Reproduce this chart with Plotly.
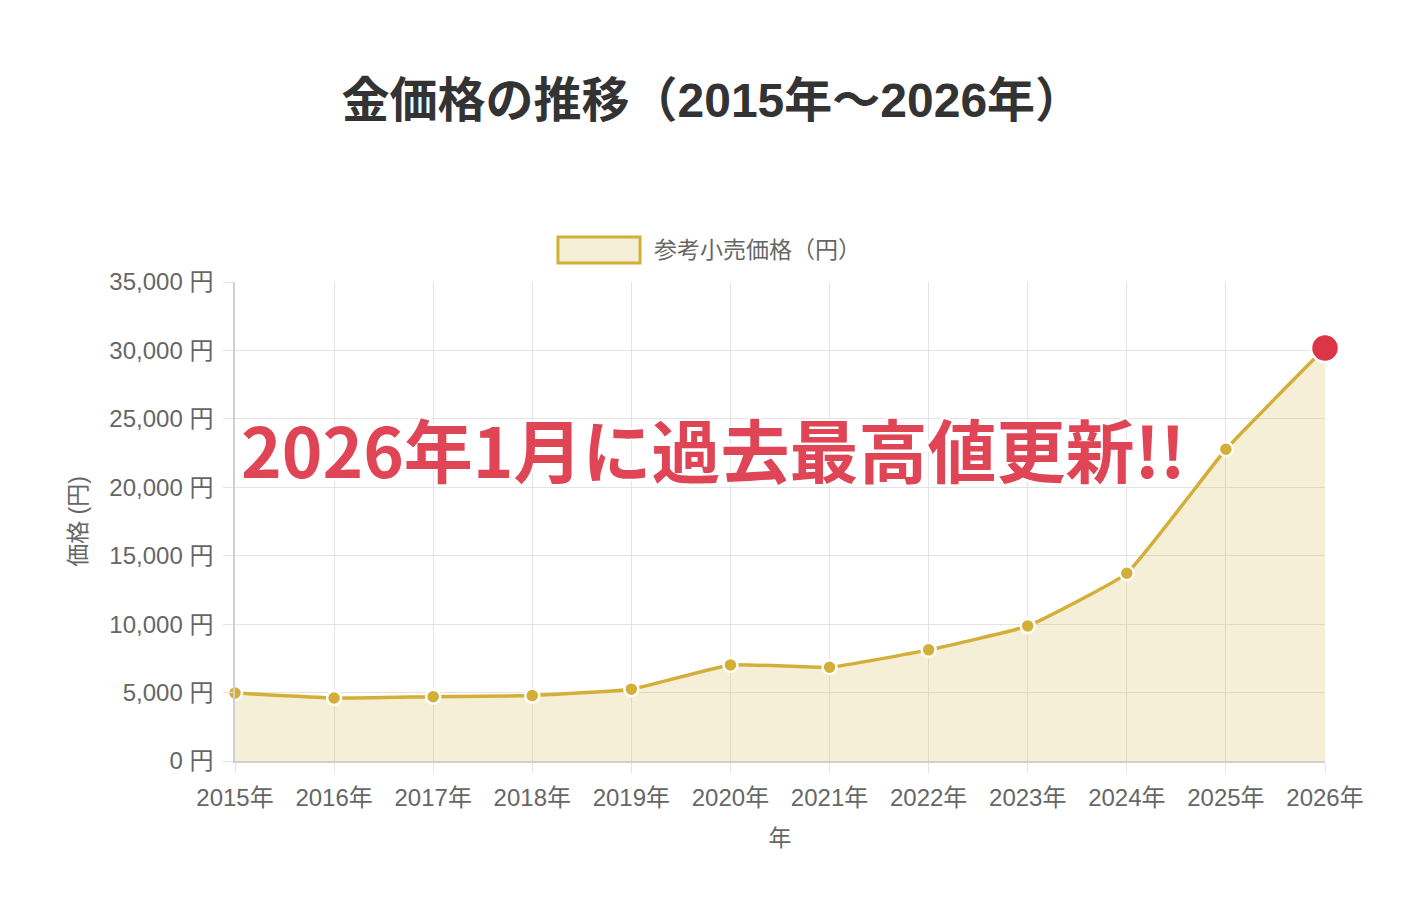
import plotly.graph_objects as go

# data
years = ["2015年", "2016年", "2017年", "2018年", "2019年", "2020年",
         "2021年", "2022年", "2023年", "2024年", "2025年", "2026年"]
prices = [4970, 4600, 4700, 4780, 5250, 7020, 6850, 8120, 9870, 13720, 22780, 30170]

y_ticks = [0, 5000, 10000, 15000, 20000, 25000, 30000, 35000]
y_tick_labels = [f"{v:,} 円" for v in y_ticks]

GOLD = "#d4af37"
RED = "#dc3545"
GRID = "#e4e4e4"
TEXT = "#666666"
BASE_FONT = "Liberation Sans, Noto Sans CJK JP, sans-serif"

marker_colors = [GOLD] * (len(prices) - 1) + [RED]
marker_sizes = [14] * (len(prices) - 1) + [28]

fig = go.Figure()
fig.add_trace(go.Scatter(
    x=years, y=prices,
    mode="lines+markers",
    name="参考小売価格（円）",
    line=dict(color=GOLD, width=3.5, shape="spline", smoothing=0.35),
    fill="tozeroy",
    fillcolor="rgba(212,175,55,0.2)",
    marker=dict(color=marker_colors, size=marker_sizes, opacity=1,
                line=dict(color="white", width=2.5)),
    cliponaxis=False,
    showlegend=False,
))

# page body adds 8px offset, so margins are shifted by that
fig.update_layout(
    width=1420, height=900,
    paper_bgcolor="white",
    plot_bgcolor="white",
    font=dict(family=BASE_FONT, size=24, color=TEXT),
    margin=dict(l=227, r=103, t=274, b=147),
    title=dict(
        text="<b>金価格の推移（2015年～2026年）</b>",
        x=0.496, xanchor="center", xref="container",
        y=0.898, yanchor="middle", yref="container",
        font=dict(family=BASE_FONT, size=48, color="#333333"),
    ),
    xaxis=dict(
        type="category",
        range=[0, len(years) - 1],
        showgrid=True, gridcolor=GRID, gridwidth=1,
        showline=True, linecolor="#d0d0d0", linewidth=1.5,
        ticks="outside", ticklen=10, tickcolor=GRID,
        ticklabelstandoff=4,
        tickfont=dict(size=24, color=TEXT),
        title=dict(text="年", font=dict(size=23, color=TEXT), standoff=20),
        zeroline=False,
    ),
    yaxis=dict(
        range=[0, 35000],
        tickvals=y_ticks,
        ticktext=y_tick_labels,
        showgrid=True, gridcolor=GRID, gridwidth=1,
        showline=True, linecolor="#d0d0d0", linewidth=1.5,
        ticks="outside", ticklen=10, tickcolor=GRID,
        ticklabelstandoff=5,
        tickfont=dict(size=24, color=TEXT),
        title=dict(text="価格 (円)", font=dict(size=23, color=TEXT), standoff=16),
        zeroline=False,
    ),
)

# custom legend box like the original chart
fig.add_shape(type="rect", xref="paper", yref="paper",
              x0=0.2963, x1=0.3716, y0=1.0397, y1=1.0939,
              line=dict(color=GOLD, width=3), fillcolor="#f6efd7")
fig.add_annotation(xref="paper", yref="paper", x=0.3826, y=1.0668,
                   xanchor="left", yanchor="middle", showarrow=False,
                   text="参考小売価格（円）", font=dict(size=23, color=TEXT))

# headline over the chart
fig.add_annotation(
    xref="paper", yref="paper", x=0.004, y=0.653,
    xanchor="left", yanchor="middle", showarrow=False,
    text="<b>2026年1月に過去最高値更新!!</b>",
    font=dict(family="Noto Sans CJK JP, sans-serif", size=69, color="#e04555",
              shadow="2px 2px 0 #fff, -2px -2px 0 #fff, 2px -2px 0 #fff, -2px 2px 0 #fff"),
)

fig.write_html("out.html")
